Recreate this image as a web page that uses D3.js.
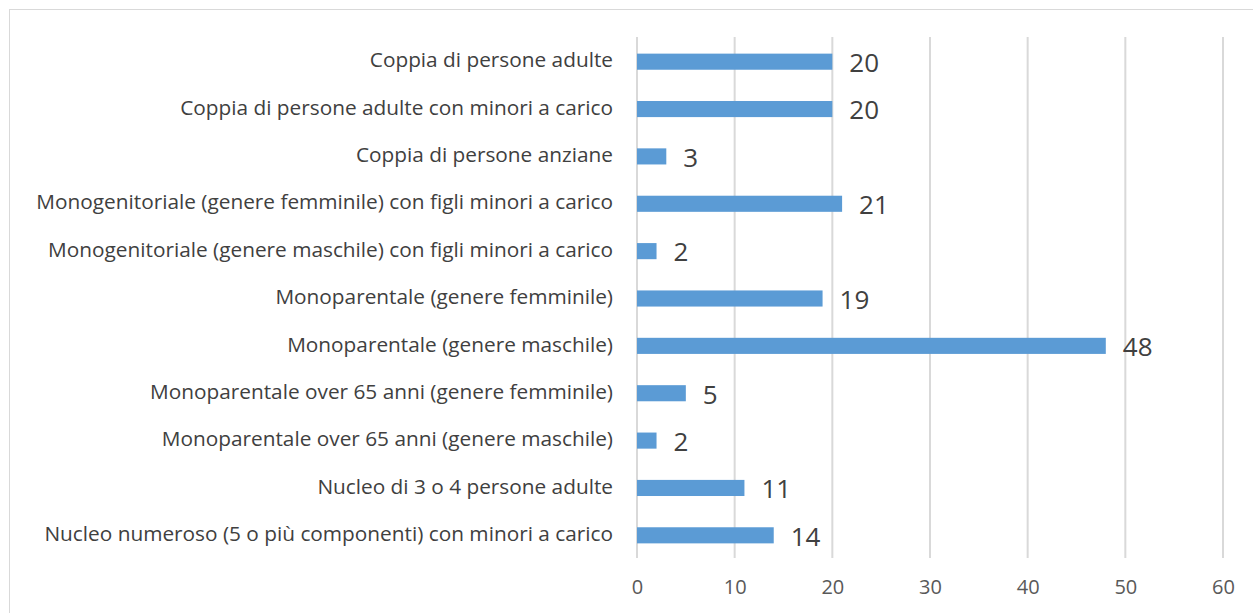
<!DOCTYPE html>
<html><head><meta charset="utf-8">
<script src="https://cdn.jsdelivr.net/npm/d3@7"></script>
<style>body{margin:0;background:#fff;} svg{display:block;}</style>
</head><body>
<svg id="c" width="1253" height="613"></svg>
<script>
const categories = [
  "Coppia di persone adulte",
  "Coppia di persone adulte con minori a carico",
  "Coppia di persone anziane",
  "Monogenitoriale (genere femminile) con figli minori a carico",
  "Monogenitoriale (genere maschile) con figli minori a carico",
  "Monoparentale (genere femminile)",
  "Monoparentale (genere maschile)",
  "Monoparentale over 65 anni (genere femminile)",
  "Monoparentale over 65 anni (genere maschile)",
  "Nucleo di 3 o 4 persone adulte",
  "Nucleo numeroso (5 o più componenti) con minori a carico"
];
const values = [20, 20, 3, 21, 2, 19, 48, 5, 2, 11, 14];
const ticks = [0, 10, 20, 30, 40, 50, 60];

const font = "'Open Sans', Lato, sans-serif";
const svg = d3.select("#c");
const pLeft = 637, pRight = 1223, pTop = 37, pBottom = 558;

// chart frame
svg.append("rect").attr("x", 9.5).attr("y", 9.5).attr("width", 1300).attr("height", 700)
  .attr("fill", "none").attr("stroke", "#d9d9d9").attr("stroke-width", 1);

const x = d3.scaleLinear().domain([0, 60]).range([pLeft, pRight]);
const y = d3.scaleBand().domain(categories).range([pTop, pBottom]).paddingInner(0.66).paddingOuter(0.33);

const grid = svg.append("g");
grid.selectAll("line").data(ticks).join("line")
  .attr("x1", d => x(d)).attr("x2", d => x(d))
  .attr("y1", pTop).attr("y2", pBottom)
  .attr("stroke", "#d9d9d9").attr("stroke-width", 2);

const xAxis = d3.axisBottom(x).tickValues(ticks).tickSize(0).tickPadding(0);
const ax = svg.append("g").attr("transform", `translate(0,${pBottom + 22})`).call(xAxis);
ax.select(".domain").remove();
ax.selectAll("text").attr("font-family", font).attr("font-size", 20).attr("fill", "#595959").attr("dy", "0.71em");

svg.append("g").selectAll("rect").data(values).join("rect")
  .attr("x", x(0)).attr("y", (d, i) => y(categories[i]) + 1)
  .attr("width", d => x(d) - x(0)).attr("height", y.bandwidth())
  .attr("fill", "#5b9bd5");

const yAxis = d3.axisLeft(y).tickSize(0).tickPadding(24);
const ay = svg.append("g").attr("transform", `translate(${pLeft},0)`).call(yAxis);
ay.select(".domain").remove();
ay.selectAll("text").attr("font-family", font).attr("font-size", 20.8).attr("fill", "#404040");

svg.append("g").selectAll("text").data(values).join("text")
  .attr("x", d => x(d) + 17).attr("y", (d, i) => y(categories[i]) + y.bandwidth() / 2 + 2)
  .attr("dy", "0.36em")
  .attr("font-family", font).attr("font-size", 26).attr("fill", "#404040")
  .text(d => d);
</script>
</body></html>
